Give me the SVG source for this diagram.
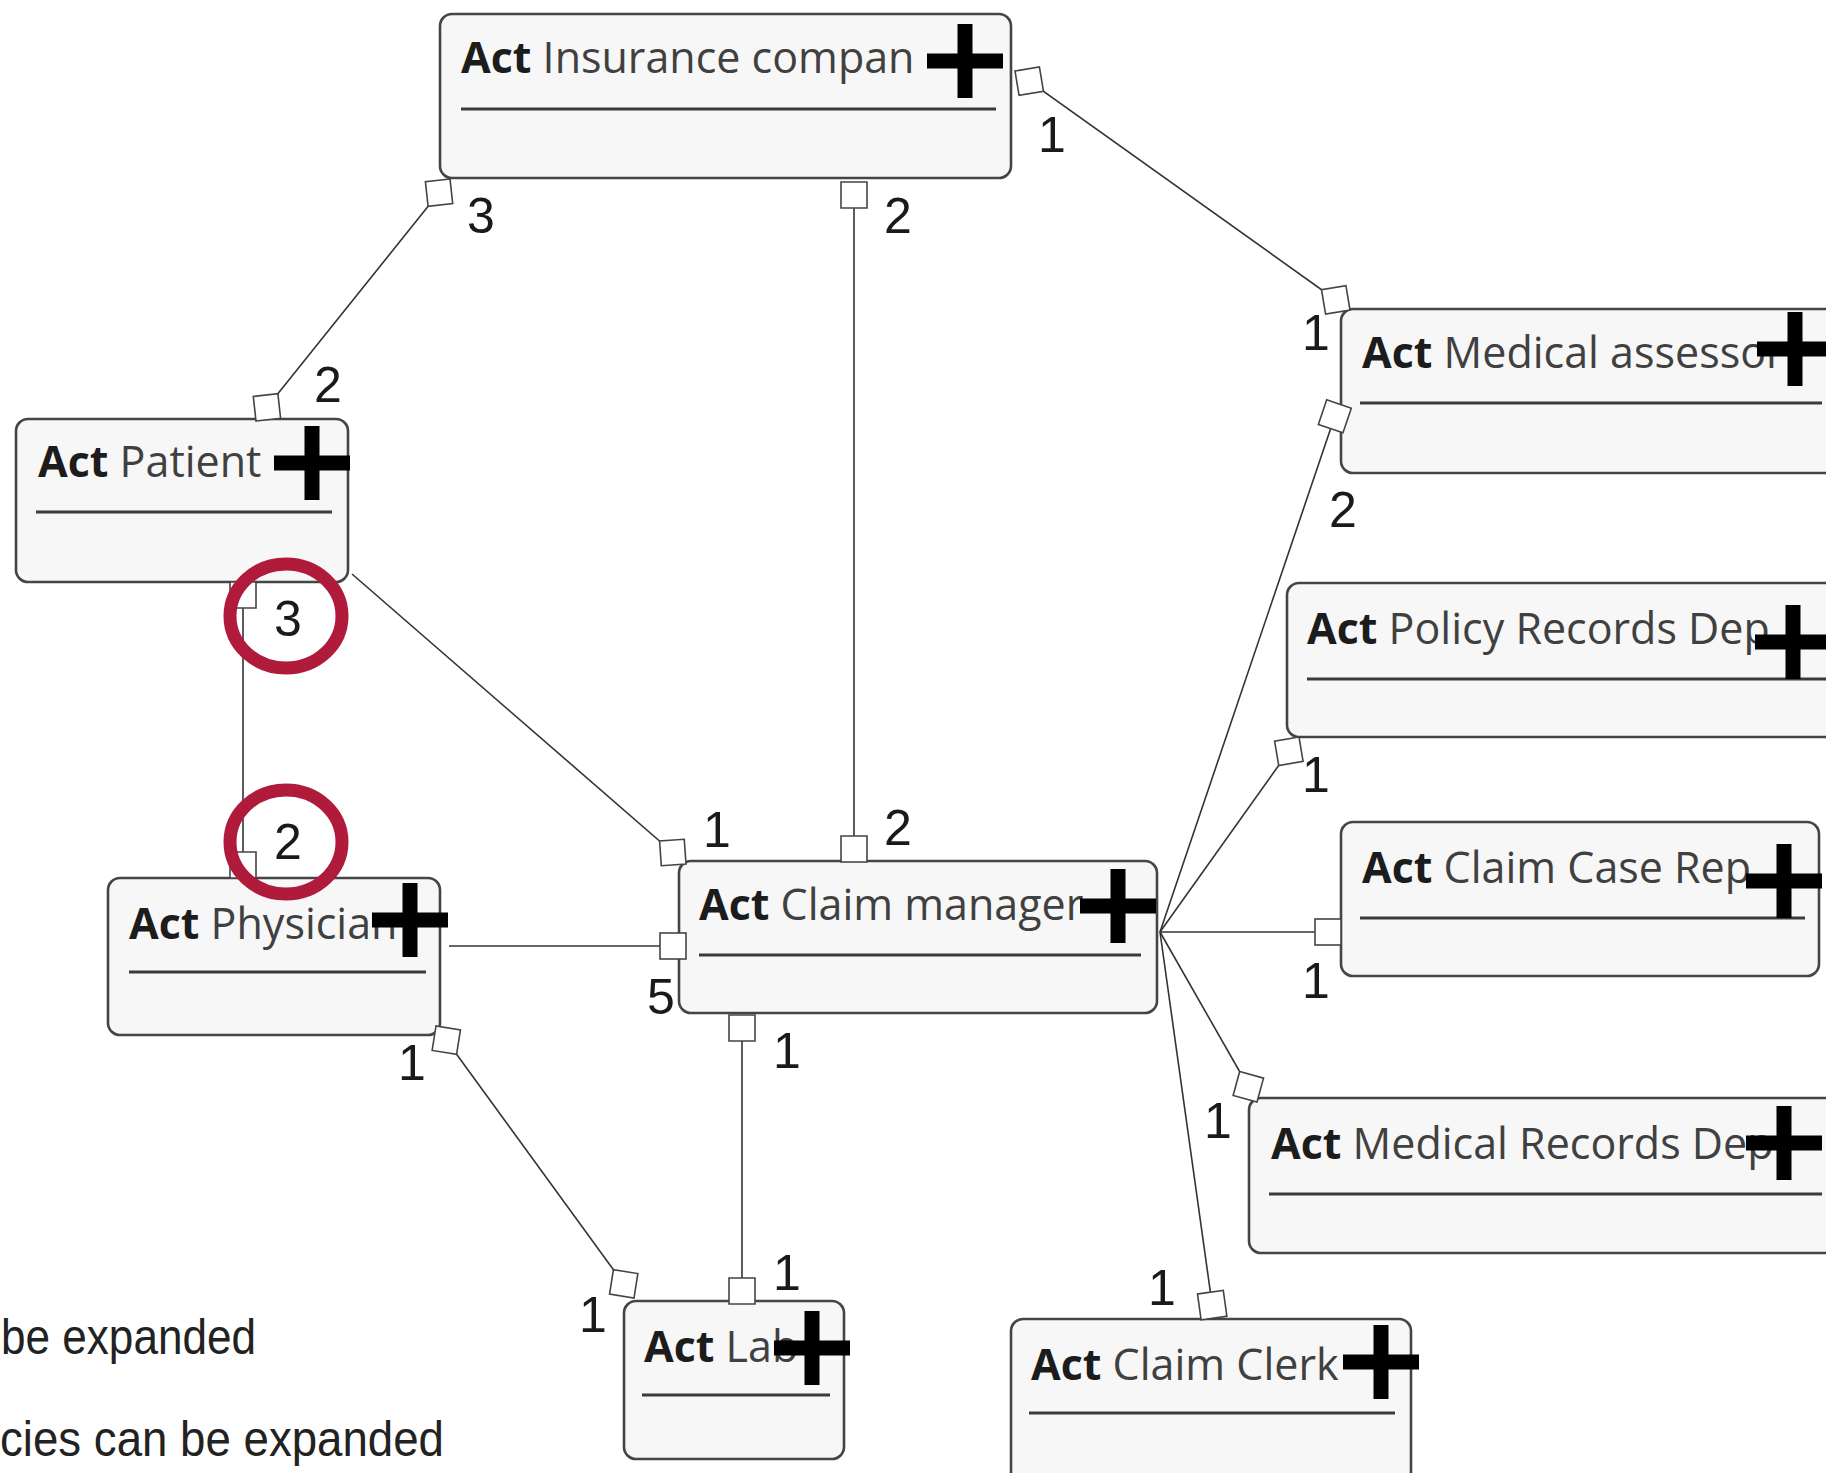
<svg xmlns="http://www.w3.org/2000/svg" width="1826" height="1473" viewBox="0 0 1826 1473">
  <style>
    .box { fill: #f7f7f7; stroke: #454545; stroke-width: 2.6; }
    .sep { stroke: #3a3a3a; stroke-width: 3; }
    .title { font-family: "Open Sans", "Noto Sans", "DejaVu Sans", sans-serif; font-size: 43px; fill: #404040; }
    .kw { font-weight: bold; fill: #1c1c1c; }
    .plus { fill: #000; }
    .conn { stroke: #333; stroke-width: 1.6; fill: none; }
    .mult { font-family: "Liberation Sans", Arial, sans-serif; font-size: 50px; fill: #1a1a1a; text-anchor: middle; }
    .note { font-family: "Liberation Sans", Arial, sans-serif; font-size: 50px; fill: #222; }
    .ring { fill: none; stroke: #b01a3b; stroke-width: 13; }
  </style>
  <defs>
    <!-- hollow square end, sides along the line -->
    <marker id="sq" markerUnits="userSpaceOnUse" markerWidth="30" markerHeight="30" refX="0" refY="0" orient="auto-start-reverse" overflow="visible">
      <rect x="-26" y="-13" width="26" height="26" fill="#fff" stroke="#444" stroke-width="1.6"/>
    </marker>
    <!-- hollow diamond end, diagonal along the line -->
    <marker id="dia" markerUnits="userSpaceOnUse" markerWidth="40" markerHeight="40" refX="0" refY="0" orient="auto-start-reverse" overflow="visible">
      <path d="M0,0 L-17.5,-17.5 L-35,0 L-17.5,17.5 Z" fill="#fff" stroke="#444" stroke-width="1.6"/>
    </marker>
    <!-- expand icon -->
    <g id="plusIcon">
      <rect x="-38" y="-7.5" width="76" height="15"/>
      <rect x="-7.5" y="-37" width="15" height="74"/>
    </g>
  </defs>

  <rect width="1826" height="1473" fill="#fff"/>

  <!-- nodes -->
  <g id="insurance-company">
    <rect class="box" x="440" y="14" width="571" height="164" rx="12"/>
    <text class="title" x="461" y="73"><tspan class="kw">Act</tspan> Insurance compan</text>
    <line class="sep" x1="461" y1="109" x2="996" y2="109"/>
    <use href="#plusIcon" class="plus" x="965" y="61"/>
  </g>

  <g id="patient">
    <rect class="box" x="16" y="419" width="332" height="163" rx="12"/>
    <text class="title" x="38" y="477"><tspan class="kw">Act</tspan> Patient</text>
    <line class="sep" x1="36" y1="512" x2="332" y2="512"/>
    <use href="#plusIcon" class="plus" x="312" y="463"/>
  </g>

  <g id="physician">
    <rect class="box" x="108" y="878" width="332" height="157" rx="12"/>
    <text class="title" x="129" y="939"><tspan class="kw">Act</tspan> Physician</text>
    <line class="sep" x1="129" y1="972" x2="426" y2="972"/>
    <use href="#plusIcon" class="plus" x="410" y="920"/>
  </g>

  <g id="claim-manager">
    <rect class="box" x="679" y="861" width="478" height="152" rx="12"/>
    <text class="title" x="699" y="920"><tspan class="kw">Act</tspan> Claim manager</text>
    <line class="sep" x1="699" y1="955" x2="1141" y2="955"/>
    <use href="#plusIcon" class="plus" x="1118" y="906"/>
  </g>

  <g id="lab">
    <rect class="box" x="624" y="1301" width="220" height="158" rx="12"/>
    <text class="title" x="644" y="1362"><tspan class="kw">Act</tspan> Lab</text>
    <line class="sep" x1="642" y1="1395" x2="830" y2="1395"/>
    <use href="#plusIcon" class="plus" x="812" y="1348"/>
  </g>

  <g id="claim-clerk">
    <rect class="box" x="1011" y="1319" width="400" height="170" rx="12"/>
    <text class="title" x="1031" y="1380"><tspan class="kw">Act</tspan> Claim Clerk</text>
    <line class="sep" x1="1029" y1="1413" x2="1395" y2="1413"/>
    <use href="#plusIcon" class="plus" x="1381" y="1362"/>
  </g>

  <g id="medical-records-dept">
    <rect class="box" x="1249" y="1098" width="600" height="155" rx="12"/>
    <text class="title" x="1271" y="1159"><tspan class="kw">Act</tspan> Medical Records Dep</text>
    <line class="sep" x1="1269" y1="1194" x2="1822" y2="1194"/>
    <use href="#plusIcon" class="plus" x="1784" y="1143"/>
  </g>

  <g id="claim-case-rep">
    <rect class="box" x="1341" y="822" width="478" height="154" rx="12"/>
    <text class="title" x="1362" y="883"><tspan class="kw">Act</tspan> Claim Case Rep</text>
    <line class="sep" x1="1360" y1="918" x2="1805" y2="918"/>
    <use href="#plusIcon" class="plus" x="1784" y="881"/>
  </g>

  <g id="policy-records-dept">
    <rect class="box" x="1287" y="583" width="560" height="154" rx="12"/>
    <text class="title" x="1307" y="644"><tspan class="kw">Act</tspan> Policy Records Dep</text>
    <line class="sep" x1="1307" y1="679" x2="1826" y2="679"/>
    <use href="#plusIcon" class="plus" x="1793" y="642"/>
  </g>

  <g id="medical-assessor">
    <rect class="box" x="1341" y="309" width="500" height="164" rx="12"/>
    <text class="title" x="1362" y="368"><tspan class="kw">Act</tspan> Medical assessor</text>
    <line class="sep" x1="1360" y1="403" x2="1822" y2="403"/>
    <use href="#plusIcon" class="plus" x="1795" y="349"/>
  </g>

  <!-- connectors -->
  <g id="connectors">
    <path class="conn" d="M450,179 L256,421" marker-start="url(#dia)" marker-end="url(#dia)"/>
    <path class="conn" d="M854,182 L854,862" marker-start="url(#sq)" marker-end="url(#sq)"/>
    <path class="conn" d="M1015,71 L1350,310" marker-start="url(#dia)" marker-end="url(#dia)"/>
    <path class="conn" d="M243,582 L243,878" marker-start="url(#sq)" marker-end="url(#sq)"/>
    <path class="conn" d="M352,574 L686,864" marker-end="url(#dia)"/>
    <path class="conn" d="M449,946 L686,946" marker-end="url(#sq)"/>
    <path class="conn" d="M436,1026 L634,1298" marker-start="url(#dia)" marker-end="url(#dia)"/>
    <path class="conn" d="M742,1015 L742,1304" marker-start="url(#sq)" marker-end="url(#sq)"/>
    <path class="conn" d="M1160,932 L1339,404" marker-end="url(#sq)"/>
    <path class="conn" d="M1160,932 L1299,737" marker-end="url(#dia)"/>
    <path class="conn" d="M1160,932 L1341,932" marker-end="url(#sq)"/>
    <path class="conn" d="M1160,932 L1257,1102" marker-end="url(#dia)"/>
    <path class="conn" d="M1160,932 L1214,1318" marker-end="url(#sq)"/>

    <!-- multiplicities -->
    <text class="mult" x="481" y="233">3</text>
    <text class="mult" x="328" y="402">2</text>
    <text class="mult" x="898" y="233">2</text>
    <text class="mult" x="898" y="845">2</text>
    <text class="mult" x="1052" y="152">1</text>
    <text class="mult" x="1316" y="350">1</text>
    <text class="mult" x="288" y="636">3</text>
    <text class="mult" x="288" y="859">2</text>
    <text class="mult" x="717" y="847">1</text>
    <text class="mult" x="661" y="1014">5</text>
    <text class="mult" x="412" y="1080">1</text>
    <text class="mult" x="593" y="1332">1</text>
    <text class="mult" x="787" y="1068">1</text>
    <text class="mult" x="787" y="1290">1</text>
    <text class="mult" x="1343" y="527">2</text>
    <text class="mult" x="1316" y="792">1</text>
    <text class="mult" x="1316" y="998">1</text>
    <text class="mult" x="1218" y="1138">1</text>
    <text class="mult" x="1162" y="1305">1</text>
  </g>

  <!-- highlight rings -->
  <g id="highlights">
    <ellipse class="ring" cx="286" cy="616" rx="56" ry="52"/>
    <ellipse class="ring" cx="286" cy="842" rx="56" ry="52"/>
  </g>

  <!-- legend lines -->
  <g id="legend">
    <text class="note" x="1" y="1354" textLength="255" lengthAdjust="spacingAndGlyphs">be expanded</text>
    <text class="note" x="0" y="1456" textLength="444" lengthAdjust="spacingAndGlyphs">cies can be expanded</text>
  </g>
</svg>
